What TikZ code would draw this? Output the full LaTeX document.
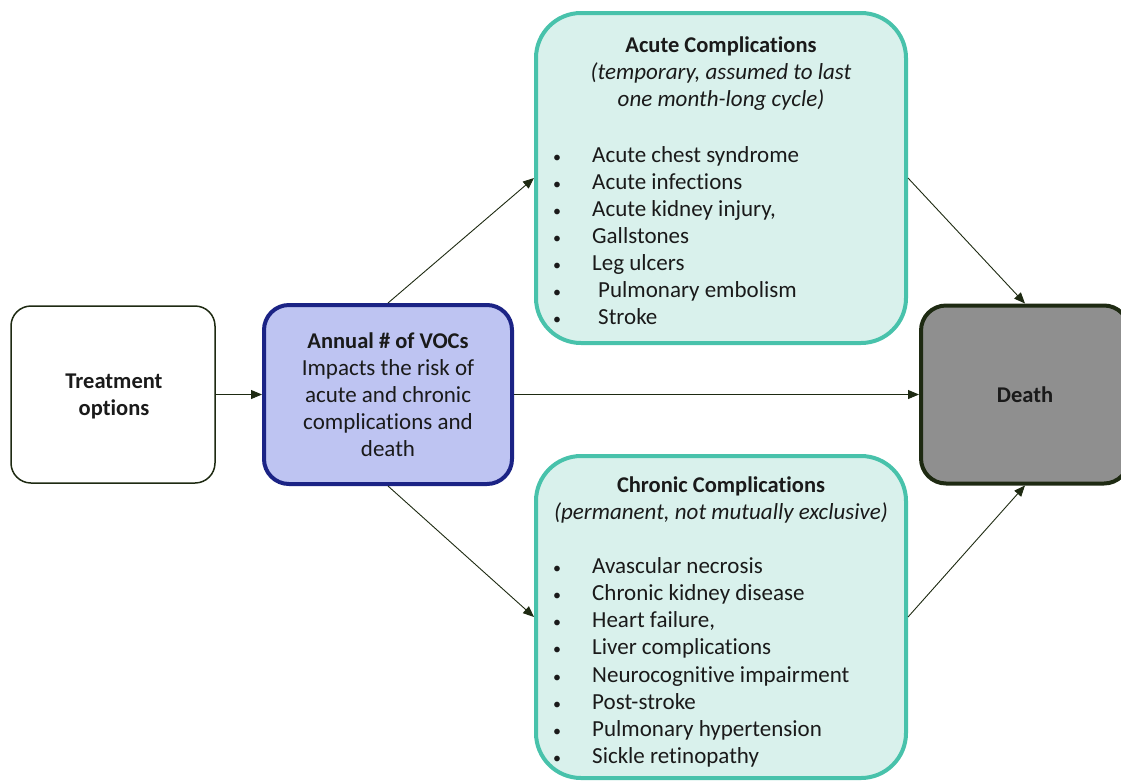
\documentclass[tikz,border=0pt]{standalone}
\usepackage{fontspec}
\setmainfont[Ligatures={NoCommon}]{Carlito}
\usetikzlibrary{arrows.meta}
\definecolor{dkolive}{HTML}{1E2A12}
\definecolor{navy}{HTML}{1B2385}
\definecolor{lav}{HTML}{BEC4F2}
\definecolor{teal}{HTML}{48C2AB}
\definecolor{mint}{HTML}{D9F1EC}
\definecolor{greyfill}{HTML}{8F8F8F}
\definecolor{txt}{HTML}{1A1A1A}
\begin{document}
\begin{tikzpicture}[x=1pt,y=-1pt,
  boxbase/.style={rectangle,inner sep=0pt},
  treatbox/.style={boxbase,draw=dkolive,line width=1.5pt,rounded corners=20pt,fill=white},
  vocbox/.style={boxbase,draw=navy,line width=4pt,rounded corners=25pt,fill=lav},
  compbox/.style={boxbase,draw=teal,line width=4pt,rounded corners=45pt,fill=mint},
  deathbox/.style={boxbase,draw=dkolive,line width=4pt,rounded corners=25pt,fill=greyfill},
  lbl/.style={font=\fontsize{23}{27}\selectfont,text=txt,inner sep=0pt},
  ttl/.style={font=\fontsize{22.5}{27}\selectfont\bfseries,text=txt,inner sep=0pt},
  ital/.style={font=\fontsize{23}{27}\selectfont\itshape,text=txt,inner sep=0pt},
  item/.style={lbl,anchor=base west},
  bul/.style={font=\fontsize{16}{20}\selectfont,text=txt,inner sep=0pt,anchor=base},
  conn/.style={draw=dkolive,line width=0.9pt,-{Triangle[length=11pt,width=9pt]}},
]
\useasboundingbox (0,0) rectangle (1121,780);

% boxes
\node[treatbox,minimum width=204pt,minimum height=177pt] (treat) at (113,394.5) {};
\node[vocbox,minimum width=248pt,minimum height=179pt] (voc) at (388,394.5) {};
\node[compbox,minimum width=370pt,minimum height=330pt] (acute) at (721,178) {};
\node[compbox,minimum width=370pt,minimum height=322pt] (chronic) at (721,617) {};
\node[deathbox,minimum width=208pt,minimum height=178pt] (death) at (1025,394.5) {};

% connectors
\draw[conn] (treat.east) -- (voc.west);
\draw[conn] (voc.east) -- (death.west);
\draw[conn] (voc.north) -- (acute.west);
\draw[conn] (voc.south) -- (chronic.west);
\draw[conn] (acute.east) -- (death.north);
\draw[conn] (chronic.east) -- (death.south);

% treatment text
\node[ttl,anchor=base] (t1) at (114,388) {Treatment};
\node[ttl,anchor=base] (t2) at (114,415) {options};

% VOC text
\node[ttl,anchor=base] (v1) at (388,348) {Annual \# of VOCs};
\node[lbl,anchor=base] (v2) at (388,375) {Impacts the risk of};
\node[lbl,anchor=base] (v3) at (388,402) {acute and chronic};
\node[lbl,anchor=base] (v4) at (388,429) {complications and};
\node[lbl,anchor=base] (v5) at (388,456) {death};

% death text
\node[ttl,anchor=base] (d1) at (1025,402) {Death};

% acute text
\node[ttl,anchor=base] (a0) at (721,52) {Acute Complications};
\node[ital,anchor=base] (a1) at (721,79) {(temporary, assumed to last};
\node[ital,anchor=base] (a2) at (721,106) {one month-long cycle)};
\foreach \y/\t/\x [count=\i] in {162/Acute chest syndrome/592,189/Acute infections/592,216/{Acute kidney injury,}/592,243/Gallstones/592,270/Leg ulcers/592,297/Pulmonary embolism/598,324/Stroke/598}{
  \node[bul] (ab\i) at (557,\y) {•};
  \node[item] (ai\i) at (\x,\y) {\t};
}

% chronic text
\node[ttl,anchor=base] (c0) at (721,492) {Chronic Complications};
\node[ital,anchor=base] (c1) at (721,519) {(permanent, not mutually exclusive)};
\foreach \y/\t [count=\i] in {573/Avascular necrosis,600/Chronic kidney disease,627/{Heart failure,},654/Liver complications,682/Neurocognitive impairment,709/Post-stroke,736/Pulmonary hypertension,763/Sickle retinopathy}{
  \node[bul] (cb\i) at (557,\y) {•};
  \node[item] (ci\i) at (592,\y) {\t};
}
\end{tikzpicture}
\end{document}
